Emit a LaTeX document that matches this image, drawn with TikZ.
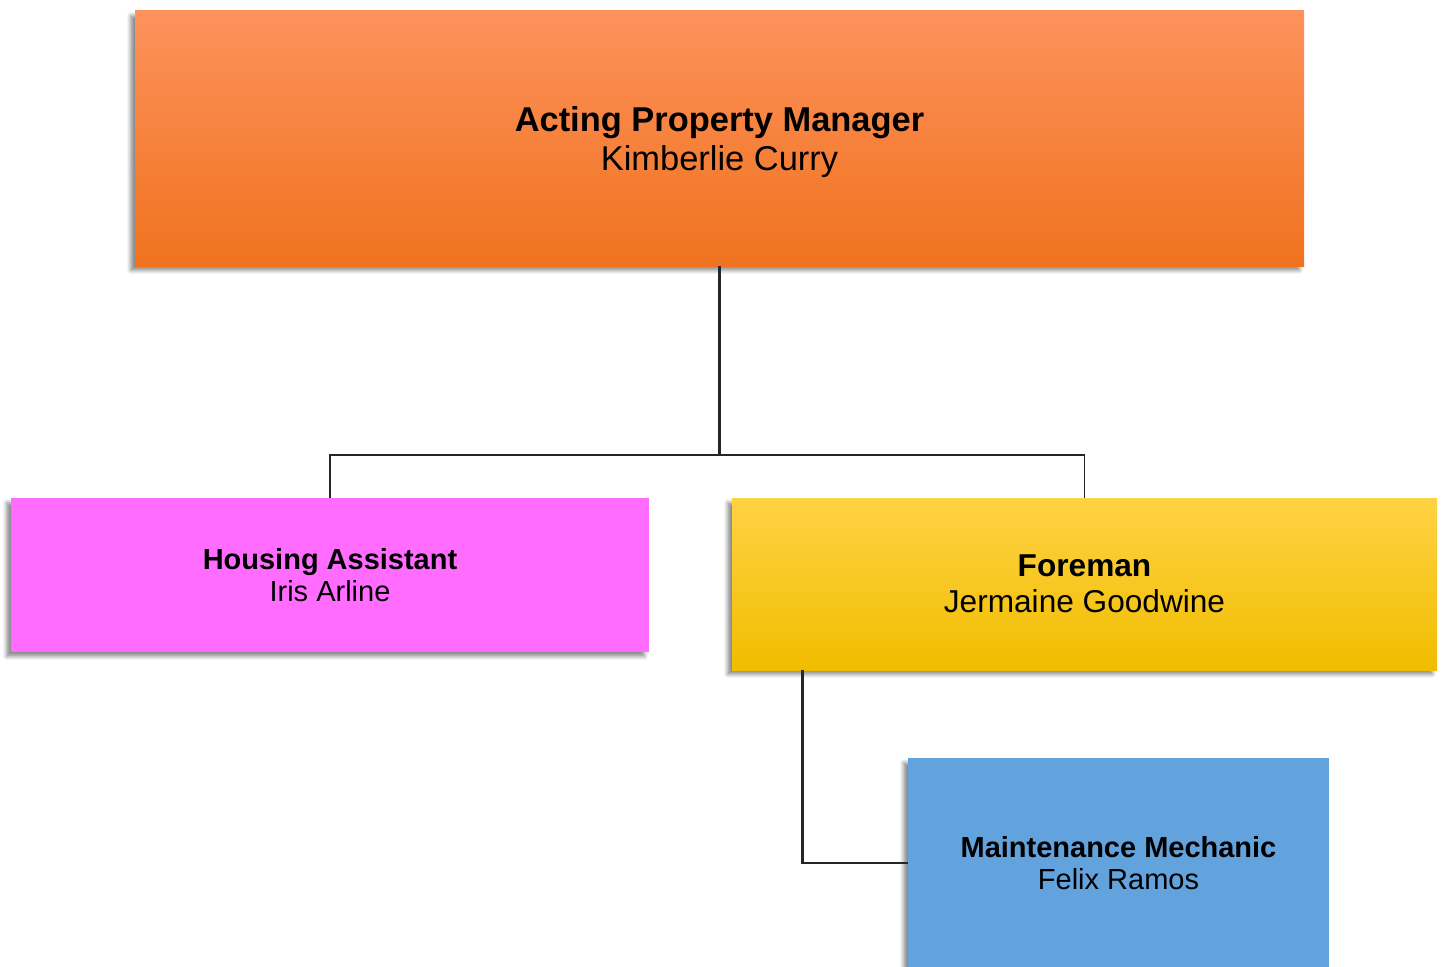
\documentclass[tikz,border=0pt]{standalone}
\usepackage{fontspec}
\setmainfont{Liberation Sans}
\usetikzlibrary{positioning, shadows, shadows.blur}
\definecolor{orangeT}{RGB}{253,146,92}
\definecolor{orangeB}{RGB}{240,114,30}
\definecolor{pinkF}{RGB}{255,108,255}
\definecolor{goldT}{RGB}{255,210,68}
\definecolor{goldM}{RGB}{255,205,0}
\definecolor{goldB}{RGB}{241,189,0}
\definecolor{blueF}{RGB}{98,163,221}

\begin{document}
\begin{tikzpicture}[
    x=0.02cm, y=-0.02cm,
    box/.style args = {#1/#2}{
                    minimum width=#1*0.02cm,% width in px
                    minimum height=#2*0.02cm,
                    inner sep=1mm, align=center, text depth=0pt,
                    blur shadow={shadow xshift=-0.09cm, shadow yshift=-0.09cm,
                                 shadow blur steps=6, shadow opacity=45}},
    line/.style = {draw=black!85, line width=#1},
    line/.default = 1.5pt]
%---
\useasboundingbox (0,0) rectangle (1442,966);
% top
\node (apm) [box=1169/255, top color=orangeT, bottom color=orangeB,
             font=\fontsize{19.6}{22.7}\selectfont] at (719.5,138.5)
            {\textbf{Acting Property Manager}\\Kimberlie Curry};
% middle
\node (ha)  [box=638/154, fill=pinkF,
             font=\fontsize{16.5}{18.7}\selectfont] at (330,575)
            {\textbf{Housing Assistant}\\Iris Arline};
\node (fm)  [box=705/172, top color=goldT, middle color=goldM, bottom color=goldB,
             font=\fontsize{18}{20.4}\selectfont] at (1084.5,584)
            {\textbf{Foreman}\\Jermaine Goodwine};
% bottom
\node (mm)  [box=421/210, fill=blueF,
             font=\fontsize{16.5}{18.7}\selectfont] at (1118.5,863)
            {\textbf{Maintenance Mechanic}\\Felix Ramos};
% lines
\coordinate (jn) at (apm.south |- 0,455);
\draw[line]         (apm.south) -- (jn);
\draw[line=1pt]     (ha.north) |- (jn) -| (fm.north);
\draw[line=1.6pt]   ([xshift=1.42cm]fm.south west) |- (mm.west);
\end{tikzpicture}
\end{document}
